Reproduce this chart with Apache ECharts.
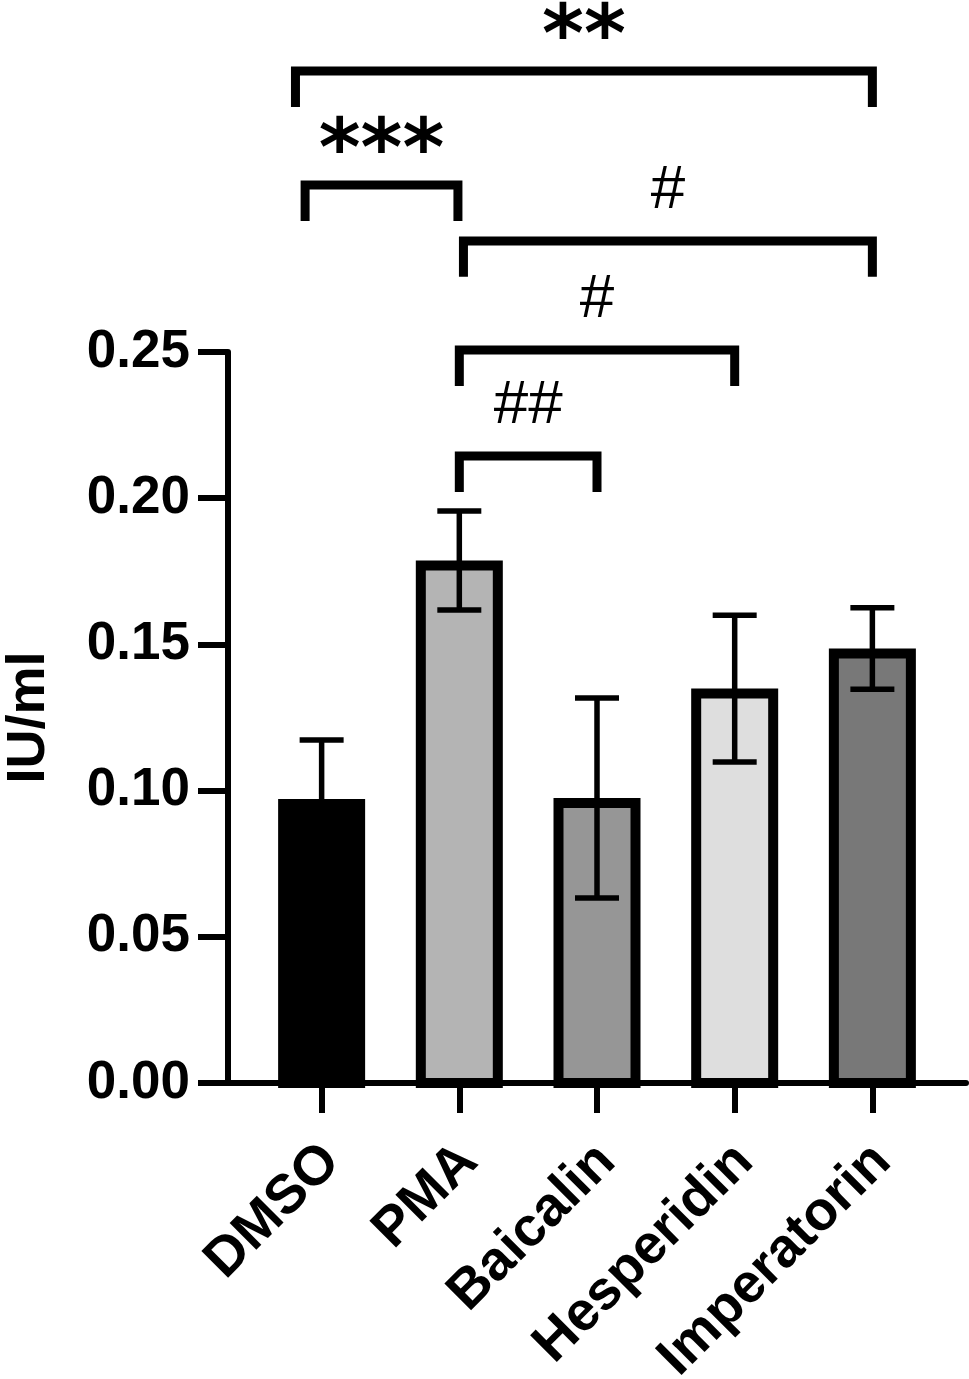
<!DOCTYPE html>
<html>
<head>
<meta charset="utf-8">
<script src="https://cdn.jsdelivr.net/npm/echarts@6/dist/echarts.min.js"></script>
<style>
  html, body { margin: 0; padding: 0; background: #fff; }
  #chart { width: 969px; height: 1379px; }
</style>
</head>
<body>
<div id="chart"></div>
<script>
// dane
const categories = ["DMSO", "PMA", "Baicalin", "Hesperidin", "Imperatorin"];
const means = [0.0971, 0.1787, 0.0975, 0.1349, 0.1486];
const sds = [0.0202, 0.0169, 0.0342, 0.0251, 0.0139];
const barColors = ["#000000", "#b4b4b4", "#969696", "#dedede", "#787878"];
const yTicks = [0, 0.05, 0.10, 0.15, 0.20, 0.25];

// nawiasy istotnosci: od, do, wysokosc, opis
const bracketFrom = [-0.19, -0.12, 1.03, 1.0, 1.0];
const bracketTo = [4.0, 0.99, 4.0, 3.0, 2.0];
const bracketY = [0.3461, 0.3071, 0.2880, 0.2507, 0.2144];
const bracketText = ["**", "***", "#", "#", "##"];

const FONT = "'Liberation Sans', Arial, sans-serif";
const BAR_W = 87;
const BORDER = 10;

const chart = echarts.init(document.getElementById("chart"));

function renderBar(params, api) {
    const i = api.value(0);
    const top = api.coord([i, api.value(1)]);
    const base = api.coord([i, 0]);
    return {
        type: "rect",
        shape: {
            x: top[0] - BAR_W / 2 + BORDER / 2,
            y: top[1] + BORDER / 2,
            width: BAR_W - BORDER,
            height: base[1] - top[1] - BORDER / 2
        },
        style: { fill: barColors[params.dataIndex], stroke: "#000", lineWidth: BORDER }
    };
}

function renderError(params, api) {
    const i = api.value(0);
    const hi = api.coord([i, api.value(1) + api.value(2)]);
    const lo = api.coord([i, api.value(1) - api.value(2)]);
    const cap = 22;
    const st = { stroke: "#000", lineWidth: 5.5, fill: null };
    return {
        type: "group",
        children: [
            { type: "line", shape: { x1: hi[0], y1: hi[1], x2: lo[0], y2: lo[1] }, style: st },
            { type: "line", shape: { x1: hi[0] - cap, y1: hi[1], x2: hi[0] + cap, y2: hi[1] }, style: st },
            { type: "line", shape: { x1: lo[0] - cap, y1: lo[1], x2: lo[0] + cap, y2: lo[1] }, style: st }
        ]
    };
}

function renderBracket(params, api) {
    const y = api.value(2);
    const a = api.coord([api.value(0), y]);
    const b = api.coord([api.value(1), y]);
    const legEnd = api.coord([api.value(0), y - 0.0123])[1];
    const label = bracketText[params.dataIndex];
    const isStar = label.indexOf("*") >= 0;
    return {
        type: "group",
        children: [
            {
                type: "polyline",
                shape: { points: [[a[0], legEnd], [a[0], a[1]], [b[0], b[1]], [b[0], legEnd]] },
                style: { stroke: "#000", lineWidth: 9, fill: null, lineJoin: "miter" }
            },
            {
                type: "text",
                x: (a[0] + b[0]) / 2,
                y: a[1] - (isStar ? 31 : 50),
                style: {
                    text: label,
                    fill: "#000",
                    font: isStar ? "bold 80px 'DejaVu Sans', sans-serif" : "normal 62px " + FONT,
                    align: "center",
                    verticalAlign: "middle"
                }
            }
        ]
    };
}

const option = {
    animation: false,
    grid: { left: 228, right: 3, top: 352, bottom: 296, containLabel: false, outerBoundsMode: "none" },
    xAxis: {
        type: "value",
        min: -0.68,
        max: 4.68,
        splitLine: { show: false },
        axisLine: { show: true, onZero: false, lineStyle: { color: "#000", width: 6 } },
        axisTick: { show: true, length: 30, lineStyle: { color: "#000", width: 6 }, customValues: [0, 1, 2, 3, 4] },
        axisLabel: {
            customValues: [0, 1, 2, 3, 4],
            formatter: v => categories[Math.round(v)],
            rotate: 45,
            margin: 60,
            verticalAlign: "top",
            lineHeight: 28,
            color: "#000",
            fontSize: 55,
            fontWeight: "bold",
            fontFamily: FONT
        }
    },
    yAxis: {
        type: "value",
        min: 0,
        max: 0.25,
        interval: 0.05,
        name: "IU/ml",
        nameLocation: "middle",
        nameGap: 172,
        nameRotate: 90,
        nameTextStyle: { color: "#000", fontSize: 54, fontWeight: "bold", fontFamily: FONT },
        splitLine: { show: false },
        axisLine: { show: true, onZero: false, lineStyle: { color: "#000", width: 6 } },
        axisTick: { show: true, length: 30, lineStyle: { color: "#000", width: 6 } },
        axisLabel: {
            formatter: v => v.toFixed(2),
            margin: 38,
            color: "#000",
            fontSize: 53,
            fontWeight: "bold",
            fontFamily: FONT
        }
    },
    series: [
        {
            type: "custom",
            renderItem: renderBar,
            clip: false,
            data: categories.map((c, i) => [i, means[i]]),
            z: 2
        },
        {
            type: "custom",
            renderItem: renderError,
            clip: false,
            data: categories.map((c, i) => [i, means[i], sds[i]]),
            z: 3
        },
        {
            type: "custom",
            renderItem: renderBracket,
            clip: false,
            data: bracketText.map((t, i) => [bracketFrom[i], bracketTo[i], bracketY[i]]),
            z: 4
        }
    ]
};

chart.setOption(option);
</script>
</body>
</html>
